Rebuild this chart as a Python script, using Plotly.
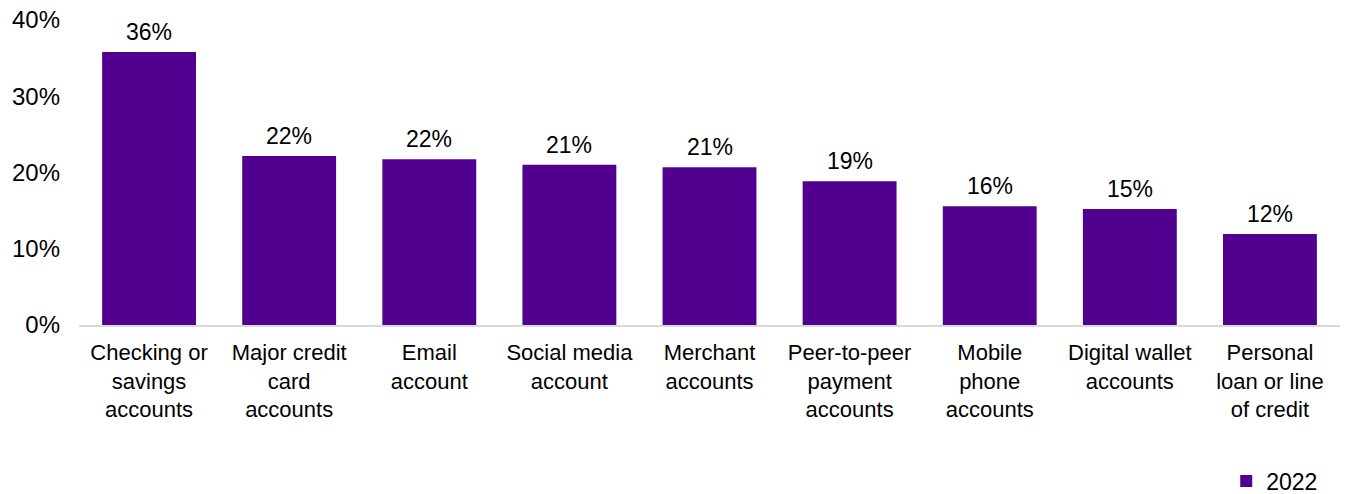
import plotly.graph_objects as go

categories = [
    "Checking or<br>savings<br>accounts",
    "Major credit<br>card<br>accounts",
    "Email<br>account",
    "Social media<br>account",
    "Merchant<br>accounts",
    "Peer-to-peer<br>payment<br>accounts",
    "Mobile<br>phone<br>accounts",
    "Digital wallet<br>accounts",
    "Personal<br>loan or line<br>of credit",
]
values_2022 = [0.358, 0.2216, 0.2173, 0.2102, 0.2068, 0.1884, 0.1556, 0.1521, 0.1193]
y_ticks = [0, 0.1, 0.2, 0.3, 0.4]

bar_color = "#52008f"
font_family = "Liberation Sans, Arial, sans-serif"

fig = go.Figure()
fig.add_trace(go.Bar(
    x=categories,
    y=values_2022,
    name="2022",
    marker=dict(color=bar_color, line=dict(width=0)),
    cliponaxis=False,
))

# value labels above each bar
for cat, val in zip(categories, values_2022):
    fig.add_annotation(
        x=cat, y=val, text=f"{val:.0%}",
        showarrow=False, yanchor="bottom", yshift=5,
        font=dict(size=23, color="#000000", family=font_family),
    )

fig.update_layout(
    width=1353,
    height=494,
    margin=dict(l=79, r=13, t=20, b=169, autoexpand=False),
    paper_bgcolor="white",
    plot_bgcolor="white",
    bargap=0.33,
    font=dict(family=font_family, size=23, color="#000000"),
    showlegend=True,
    legend=dict(
        orientation="h",
        xref="container", yref="container",
        x=0.978, xanchor="right",
        y=0.026, yanchor="middle",
        font=dict(size=23),
        itemwidth=30,
        itemsizing="constant",
        tracegroupgap=0,
    ),
    xaxis=dict(
        showgrid=False,
        showline=True,
        linecolor="#d9d9d9",
        linewidth=1.5,
        ticks="",
        automargin=False,
        ticklabelstandoff=7,
        tickfont=dict(size=22),
    ),
    yaxis=dict(
        range=[0, 0.4],
        tickvals=y_ticks,
        tickformat=".0%",
        showgrid=False,
        showline=False,
        zeroline=False,
        ticks="",
        automargin=False,
        ticklabelstandoff=18,
        tickfont=dict(size=24),
    ),
)

fig.write_html("out.html")
